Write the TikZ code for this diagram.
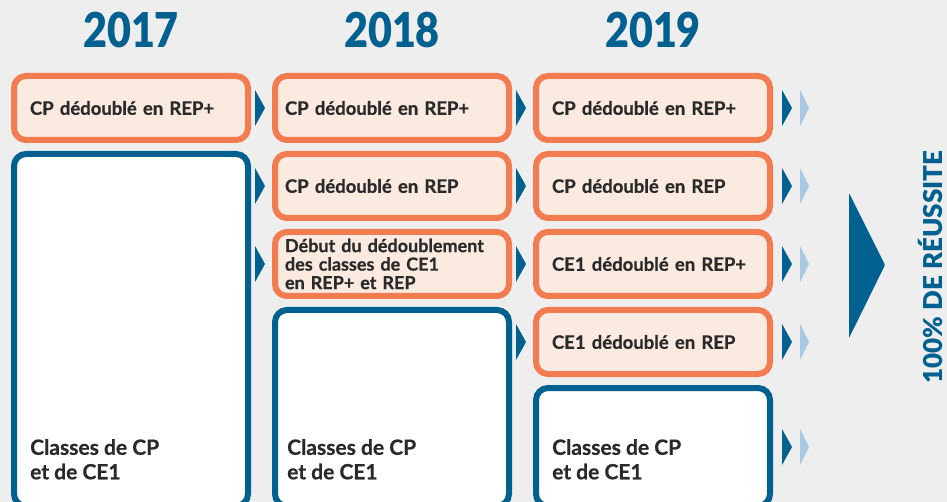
\documentclass[tikz,border=0pt]{standalone}
\usepackage{fontspec}
\setmainfont{Lato}[BoldFeatures={FakeBold=0.7}]
\newfontfamily\heavyfont{Lato Black}
\usetikzlibrary{calc}

\definecolor{bggray}{HTML}{EEEEEE}
\definecolor{darkblue}{HTML}{00608F}
\definecolor{lightblue}{HTML}{A9C8E2}
\definecolor{orangeline}{HTML}{F37B50}
\definecolor{orangefill}{HTML}{FBEAE0}
\definecolor{inkgray}{HTML}{2A2A2A}

\begin{document}
\begin{tikzpicture}[x=1pt, y=-1pt,
    redbox/.style={draw=orangeline, fill=orangefill, line width=6pt, rounded corners=12pt,
      minimum width=234pt, minimum height=64pt, inner xsep=16pt, text width=202pt,
      align=left, text=inkgray, font=\bfseries\fontsize{18.5}{18.5}\selectfont},
    bluebox/.style={draw=darkblue, fill=white, line width=6pt, rounded corners=12pt, minimum width=234pt},
    classtext/.style={anchor=north west, inner sep=0pt, align=left, text=inkgray,
      font=\bfseries\fontsize{21}{24.5}\selectfont},
    yearlabel/.style={text=darkblue, font=\heavyfont\fontsize{48}{48}\selectfont},
    chevron/.style={fill=darkblue},
    pale chevron/.style={fill=lightblue}]

    \fill[bggray] (0,0) rectangle (947,502);
    \useasboundingbox (0,0) rectangle (947,502);

    \node[yearlabel] (Y1) at (131,30) {\scalebox{0.86}[1]{2017}};
    \node[yearlabel] (Y2) at (392,30) {\scalebox{0.86}[1]{2018}};
    \node[yearlabel] (Y3) at (653,30) {\scalebox{0.86}[1]{2019}};

    % 2017
    \node[redbox] (A1) at (131,108) {CP dédoublé en REP+};
    \node[bluebox, minimum height=352pt] (A2) at (131,330) {};
    \node[classtext] (A2t) at (30,439) {Classes de CP\\et de CE1};

    % 2018
    \node[redbox, inner xsep=10pt, text width=214pt] (B1) at (392,108) {CP dédoublé en REP+};
    \node[redbox, inner xsep=10pt, text width=214pt] (B2) at (392,186) {CP dédoublé en REP};
    \node[redbox, inner xsep=10pt, text width=214pt, font=\bfseries\fontsize{18}{18.5}\selectfont] (B3) at (392,264) {Début du dédoublement\\des classes de CE1\\en REP+ et REP};
    \node[bluebox, minimum height=196pt] (B4) at (392,408) {};
    \node[classtext] (B4t) at (287,439) {Classes de CP\\et de CE1};

    % 2019
    \node[redbox] (C1) at (653,108) {CP dédoublé en REP+};
    \node[redbox] (C2) at (653,186) {CP dédoublé en REP};
    \node[redbox] (C3) at (653,264) {CE1 dédoublé en REP+};
    \node[redbox] (C4) at (653,342) {CE1 dédoublé en REP};
    \node[bluebox, minimum height=118pt] (C5) at (653,447) {};
    \node[classtext] (C5t) at (552,439) {Classes de CP\\et de CE1};

    % small arrows between the years
    \foreach \tgt in {B1,B2,B3,C1,C2,C3,C4}
        \fill[chevron] ($(\tgt.west)+(-17,-18)$) -- ($(\tgt.west)+(-7,0)$) -- ($(\tgt.west)+(-17,18)$) -- cycle;
    \foreach \src in {C1,C2,C3,C4,C5} {
        \fill[chevron] ($(\src.east)+(9,-18)$) -- ($(\src.east)+(19,0)$) -- ($(\src.east)+(9,18)$) -- cycle;
        \fill[pale chevron] ($(\src.east)+(27,-18)$) -- ($(\src.east)+(36,0)$) -- ($(\src.east)+(27,18)$) -- cycle;
    }

    \coordinate (G) at (885,265);
    \fill[darkblue, rounded corners=1pt] (849,193) -- (G) -- (849,338) -- cycle; % big arrow
    \node[rotate=90, text=darkblue, font=\heavyfont\fontsize{26}{26}\selectfont] (R) at (930,267) {100\% DE RÉUSSITE};
\end{tikzpicture}
\end{document}
